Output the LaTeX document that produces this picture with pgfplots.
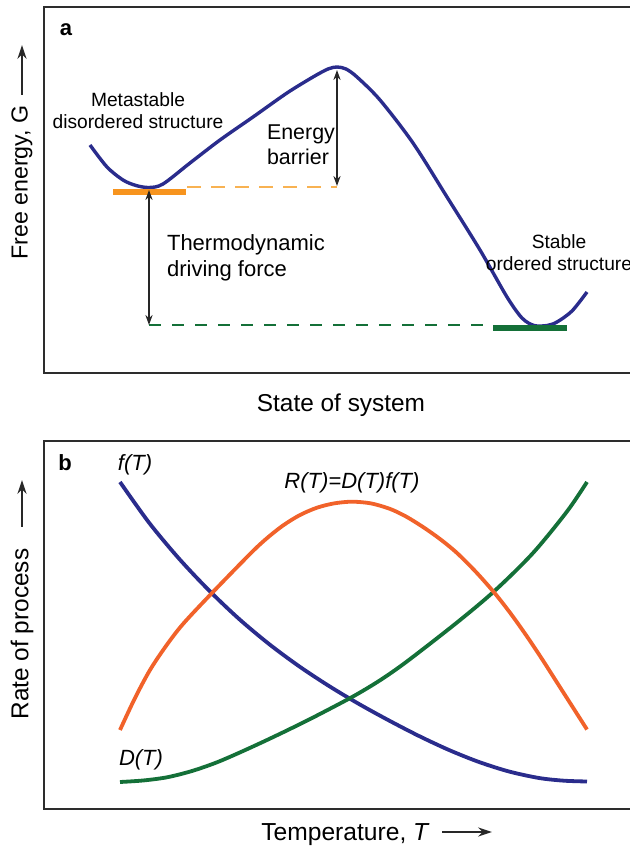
\documentclass[border=0pt]{standalone}
\usepackage{fontspec}
\setmainfont{Liberation Sans}
\usepackage{pgfplots}
\pgfplotsset{compat=1.18}
\usetikzlibrary{arrows.meta}

\definecolor{curveblue}{RGB}{42,44,140}
\definecolor{barorange}{RGB}{247,148,30}
\definecolor{dashorange}{RGB}{248,178,82}
\definecolor{darkgreen}{RGB}{20,112,56}
\definecolor{redorange}{RGB}{241,98,42}
\definecolor{framegray}{RGB}{45,45,45}
\definecolor{txt}{RGB}{40,40,40}

% one px of the reference = 0.5pt
\pgfplotsset{panel/.style={
  scale only axis, width=296pt, xmin=0, xmax=592, ymin=0,
  xtick=\empty, ytick=\empty, clip=false, anchor=south west,
  axis line style={draw=framegray, line width=1.2pt},
  every node/.append style={text=txt},
}}
\tikzset{dbl/.style={{Stealth[length=5pt,width=3.6pt]}-{Stealth[length=5pt,width=3.6pt]}, line width=0.7pt, black!85},
  lab/.style={-{Stealth[length=7pt,width=4.6pt]}, line width=0.8pt, txt}}

\begin{document}
\begin{tikzpicture}
\useasboundingbox (0pt,0pt) rectangle (315pt,424pt);

% ---- panel a ----
\begin{axis}[panel, at={(22pt,237.5pt)}, height=183pt, ymax=366]
\addplot[curveblue, line width=1.7pt, smooth] coordinates {
 (46,228) (63,206) (79,193) (92,187.5) (105,185.5) (119,189) (146,210) (176,233)
 (209,256) (243,280) (269,296) (284,304) (293,306) (302,304) (313,296)
 (336,273) (369,230) (403,176) (436,123) (463,76) (478,55) (490,47.5)
 (503,47.5) (513,51) (528,62) (543,81)};
\addplot[barorange, line width=2.6pt] coordinates {(69,181) (142,181)};
\addplot[dashorange, line width=1pt, dash pattern=on 7pt off 5pt] coordinates {(143,186) (293,186)};
\addplot[darkgreen, line width=1pt, dash pattern=on 6pt off 5.5pt] coordinates {(105,48) (449,48)};
\addplot[darkgreen, line width=2.6pt] coordinates {(449,45) (523,45)};
\draw[dbl] (293,303) -- (293,187);
\draw[dbl] (105,183) -- (105,48);

\node[font=\bfseries\fontsize{11}{13}\selectfont] at (22,343) {a};
\node[align=center, font=\fontsize{9.6}{11}\selectfont] at (94,262) {Metastable\\disordered structure};
\node[align=left, anchor=west, font=\fontsize{10.7}{12.5}\selectfont] at (216,228.5) {Energy\\barrier};
\node[align=left, anchor=west, font=\fontsize{11}{13}\selectfont] at (116,115.5) {Thermodynamic\\driving force};
\node[align=center, font=\fontsize{9.6}{11}\selectfont] at (515,120.5) {Stable\\ordered structure};

\node[rotate=90, anchor=west, inner sep=0pt, font=\fontsize{11.6}{14}\selectfont] at (-22,113) {Free energy, G};
\draw[lab] (-22,278) -- (-22,328);
\node[anchor=base, inner sep=0pt, font=\fontsize{12.2}{14}\selectfont] at (297,-39) {State of system};
\end{axis}

% ---- panel b ----
\begin{axis}[panel, at={(22pt,19.5pt)}, height=184pt, ymax=368]
\addplot[curveblue, line width=1.9pt, smooth] coordinates {
 (76,327) (105,286.4) (135,250.4) (165,218.6) (195,190.1) (225,165) (255,142.8)
 (285,123) (315,105) (345,88.5) (375,73) (405,59) (435,47) (465,37.5)
 (495,31) (520,28.3) (543,27.5)};
\addplot[darkgreen, line width=1.9pt, smooth] coordinates {
 (76,27) (99,28.5) (123,31.7) (148,38) (173,46.7) (198,57.5) (223,69) (248,81)
 (273,93.5) (309,112.5) (336,128.7) (363,147.6) (413,186.5) (451,218.5)
 (489,256) (523,297.5) (543,327)};
\addplot[redorange, line width=1.9pt, smooth] coordinates {
 (76,79) (91,111) (106,139) (122,163) (139,185) (168,216) (206,255) (222,270)
 (239,283.5) (256,294) (273,301.3) (290,305.6) (308,307.3) (327,305.6)
 (346,300.1) (362,292.5) (379,282) (396,270) (413,256) (432,237) (451,215.5)
 (467,195) (483,172.5) (498,150) (513,126.5) (528,103) (543,79.5)};

\node[font=\bfseries\fontsize{11}{13}\selectfont] at (21,346) {b};
\node[font=\itshape\fontsize{11}{13}\selectfont] at (91,344) {f(T)};
\node[font=\itshape\fontsize{11}{13}\selectfont] at (308,326) {R(T)=D(T)f(T)};
\node[font=\itshape\fontsize{11}{13}\selectfont] at (97,49) {D(T)};

\node[rotate=90, anchor=west, inner sep=0pt, font=\fontsize{12.2}{14}\selectfont] at (-22,89) {Rate of process};
\draw[lab] (-22,282) -- (-22,329);
\node[anchor=base west, inner sep=0pt, font=\fontsize{12.3}{14}\selectfont] at (217,-32) {Temperature, \textit{T}};
\draw[lab] (398,-23) -- (448,-23);
\end{axis}
\end{tikzpicture}
\end{document}
